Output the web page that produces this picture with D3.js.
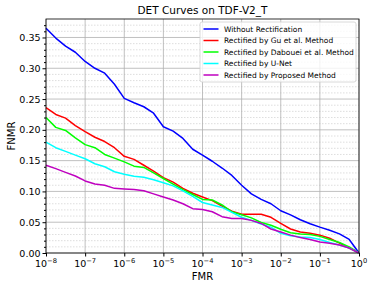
<!DOCTYPE html>
<html>
<head>
<meta charset="utf-8">
<script src="https://cdn.jsdelivr.net/npm/d3@7"></script>
<style>
  body { margin: 0; background: #fff; }
  text { font-family: "DejaVu Sans", sans-serif; }
</style>
</head>
<body>
<div id="chart"></div>
<script>
// FMR sample points as powers of ten
var fmr_exp = [-8, -7.75, -7.5, -7.25, -7, -6.75, -6.5, -6.25, -6, -5.75, -5.5, -5.25,
    -5, -4.75, -4.5, -4.25, -4, -3.75, -3.5, -3.25, -3, -2.75, -2.5, -2.25,
    -2, -1.75, -1.5, -1.25, -1, -0.75, -0.5, -0.25, 0];

var fnmr_without = [0.365, 0.349, 0.336, 0.326, 0.311, 0.300, 0.292, 0.274, 0.251, 0.244, 0.2375, 0.227,
    0.205, 0.198, 0.186, 0.1685, 0.159, 0.149, 0.138, 0.126, 0.110, 0.096, 0.087, 0.080,
    0.0686, 0.062, 0.054, 0.0474, 0.042, 0.037, 0.031, 0.022, 0.0];

var fnmr_gu = [0.236, 0.225, 0.219, 0.207, 0.197, 0.188, 0.181, 0.171, 0.157, 0.152, 0.1425, 0.133,
    0.1225, 0.115, 0.105, 0.097, 0.091, 0.085, 0.076, 0.068, 0.063, 0.063, 0.063, 0.058,
    0.048, 0.039, 0.034, 0.032, 0.029, 0.024, 0.016, 0.008, 0.0];

var fnmr_dabouei = [0.220, 0.204, 0.199, 0.187, 0.176, 0.171, 0.160, 0.154, 0.148, 0.141, 0.139, 0.130,
    0.121, 0.112, 0.103, 0.095, 0.087, 0.086, 0.078, 0.067, 0.062, 0.057, 0.0495, 0.045,
    0.0385, 0.033, 0.031, 0.030, 0.027, 0.022, 0.017, 0.010, 0.0];

var fnmr_unet = [0.180, 0.171, 0.165, 0.159, 0.153, 0.145, 0.140, 0.132, 0.128, 0.1245, 0.123, 0.119,
    0.114, 0.109, 0.101, 0.092, 0.082, 0.078, 0.074, 0.066, 0.058, 0.053, 0.047, 0.042,
    0.032, 0.028, 0.026, 0.025, 0.022, 0.017, 0.013, 0.008, 0.0];

var fnmr_proposed = [0.1425, 0.137, 0.131, 0.125, 0.117, 0.112, 0.110, 0.105, 0.104, 0.103, 0.101, 0.096,
    0.091, 0.086, 0.080, 0.072, 0.0705, 0.067, 0.059, 0.056, 0.056, 0.053, 0.048, 0.039,
    0.034, 0.029, 0.025, 0.022, 0.018, 0.016, 0.013, 0.008, 0.0];

var series_names = ["Without Rectification", "Rectified by Gu et al. Method",
    "Rectified by Dabouei et al. Method", "Rectified by U-Net", "Rectified by Proposed Method"];
var series_colors = ["#0000ff", "#ff0000", "#00ff00", "#00ffff", "#bf00bf"];
var series_values = [fnmr_without, fnmr_gu, fnmr_dabouei, fnmr_unet, fnmr_proposed];

var y_ticks = [0.00, 0.05, 0.10, 0.15, 0.20, 0.25, 0.30, 0.35];
var x_ticks = [-8, -7, -6, -5, -4, -3, -2, -1, 0];

var svgWidth = 374;
var svgHeight = 289;

var margin = { top: 19, right: 15, bottom: 36, left: 46 };

var width = svgWidth - margin.left - margin.right;
var height = svgHeight - margin.top - margin.bottom;

var svg = d3.select("#chart").append("svg")
    .attr("width", svgWidth)
    .attr("height", svgHeight);

var chartGroup = svg.append("g")
    .attr("transform", `translate(${margin.left}, ${margin.top})`);

var x_scale = d3.scaleLog().domain([1e-8, 1]).range([0, width]);
var y_scale = d3.scaleLinear().domain([0, 0.38]).range([height, 0]);

// minor horizontal grid
var minor_y = d3.range(1, 38).map(d => d / 100).filter(d => Math.round(d * 100) % 5 != 0);
chartGroup.selectAll(".minor-grid")
    .data(minor_y)
    .enter()
    .append("line")
    .attr("x1", 0)
    .attr("x2", width)
    .attr("y1", d => y_scale(d))
    .attr("y2", d => y_scale(d))
    .attr("stroke", "#d6d6d6")
    .attr("stroke-width", 0.8)
    .attr("stroke-dasharray", "1.5,1.5");

// major grid
chartGroup.selectAll(".major-grid-y")
    .data(y_ticks)
    .enter()
    .append("line")
    .attr("x1", 0)
    .attr("x2", width)
    .attr("y1", d => y_scale(d))
    .attr("y2", d => y_scale(d))
    .attr("stroke", "#b0b0b0")
    .attr("stroke-width", 0.8);

chartGroup.selectAll(".major-grid-x")
    .data(x_ticks)
    .enter()
    .append("line")
    .attr("x1", d => x_scale(Math.pow(10, d)))
    .attr("x2", d => x_scale(Math.pow(10, d)))
    .attr("y1", 0)
    .attr("y2", height)
    .attr("stroke", "#b0b0b0")
    .attr("stroke-width", 0.8);

// curves
var line = d3.line()
    .x((d, i) => x_scale(Math.pow(10, fmr_exp[i])))
    .y(d => y_scale(d));

chartGroup.selectAll(".curve")
    .data(series_values)
    .enter()
    .append("path")
    .attr("fill", "none")
    .attr("stroke", (d, i) => series_colors[i])
    .attr("stroke-width", 1.5)
    .attr("stroke-linejoin", "round")
    .attr("d", line);

// frame
chartGroup.append("rect")
    .attr("width", width)
    .attr("height", height)
    .attr("fill", "none")
    .attr("stroke", "#000")
    .attr("stroke-width", 0.8);

// y axis
var y_axis = chartGroup.append("g")
    .call(d3.axisLeft(y_scale).tickValues(y_ticks).tickFormat(d3.format(".2f")).tickSize(3.5).tickPadding(2));
y_axis.select(".domain").remove();
y_axis.selectAll("text").attr("font-size", "9.5px").attr("fill", "#000").attr("font-family", "DejaVu Sans");

chartGroup.append("g")
    .call(d3.axisLeft(y_scale).tickValues(minor_y).tickFormat("").tickSize(2))
    .select(".domain").remove();

// x axis
var x_axis = chartGroup.append("g")
    .attr("transform", `translate(0, ${height})`)
    .call(d3.axisBottom(x_scale).tickValues(x_ticks.map(d => Math.pow(10, d))).tickFormat("").tickSize(3.5));
x_axis.select(".domain").remove();

var x_labels = chartGroup.selectAll(".x-label")
    .data(x_ticks)
    .enter()
    .append("text")
    .attr("x", d => x_scale(Math.pow(10, d)))
    .attr("y", height + 13.5)
    .attr("text-anchor", "middle")
    .attr("font-size", "9.5px");
x_labels.append("tspan").text("10");
x_labels.append("tspan")
    .attr("dy", -4)
    .attr("font-size", "6.7px")
    .text(d => d == 0 ? "0" : "\u2212" + String(-d));

// axis labels
svg.append("text")
    .attr("x", margin.left + width / 2)
    .attr("y", 280)
    .attr("text-anchor", "middle")
    .attr("font-size", "10px")
    .text("FMR");

svg.append("text")
    .attr("transform", `translate(14.5, ${margin.top + height / 2}) rotate(-90)`)
    .attr("text-anchor", "middle")
    .attr("font-size", "10px")
    .text("FNMR");

// title
svg.append("text")
    .attr("x", margin.left + width / 2)
    .attr("y", 14)
    .attr("text-anchor", "middle")
    .attr("font-size", "10.5px")
    .text("DET Curves on TDF-V2_T");

// legend
var legend = svg.append("g").attr("transform", "translate(200, 22)");
legend.append("rect")
    .attr("width", 156)
    .attr("height", 60)
    .attr("rx", 2)
    .attr("fill", "#fff")
    .attr("fill-opacity", 0.8)
    .attr("stroke", "#d0d0d0")
    .attr("stroke-width", 0.8);

var legend_items = legend.selectAll(".legend-item")
    .data(series_names)
    .enter()
    .append("g")
    .attr("transform", (d, i) => `translate(0, ${7 + i * 11.5})`);

legend_items.append("line")
    .attr("x1", 3.5)
    .attr("x2", 18.5)
    .attr("stroke", (d, i) => series_colors[i])
    .attr("stroke-width", 1.5);

legend_items.append("text")
    .attr("x", 24)
    .attr("y", 2.7)
    .attr("font-size", "7.5px")
    .text(d => d);
</script>
</body>
</html>
